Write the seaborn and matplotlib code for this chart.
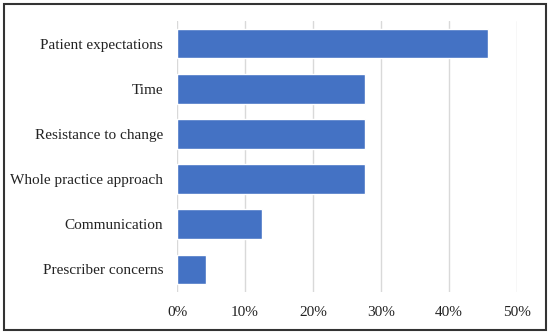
import matplotlib
matplotlib.use("Agg")
import matplotlib.pyplot as plt
import seaborn as sns
import pandas as pd
from matplotlib.ticker import PercentFormatter
from matplotlib.patches import Rectangle

categories = ["Patient expectations", "Time", "Resistance to change",
              "Whole practice approach", "Communication", "Prescriber concerns"]
values = [45.8, 27.7, 27.7, 27.7, 12.45, 4.2]
xticks = [0, 10, 20, 30, 40, 50]

df = pd.DataFrame({"barrier": categories, "pct": values})

sns.set_theme(style="white")
plt.rcParams["font.family"] = ["Liberation Serif", "DejaVu Serif"]

fig = plt.figure(figsize=(5.5, 3.35), dpi=100)
ax = fig.add_axes([177/550, 1-292/335, (517-177)/550, (292-21)/335])

sns.barplot(data=df, y="barrier", x="pct", orient="h", color="#4472C4",
            saturation=1, width=0.66, ax=ax, zorder=3)

ax.set_xlim(0, 50)
ax.set_xticks(xticks)
ax.xaxis.set_major_formatter(PercentFormatter(decimals=0))
ax.grid(axis="x", color="#d9d9d9", linewidth=1.0, zorder=0)
ax.set_axisbelow(True)
for s in ax.spines.values():
    s.set_visible(False)
ax.set_xlabel("")
ax.set_ylabel("")
ax.tick_params(axis="both", length=0, labelsize=11, colors="#222222")
ax.tick_params(axis="y", pad=10)
ax.tick_params(axis="x", pad=10)

fig.patches.append(Rectangle((3.5/550, 5/335), 542/550, 326/335, transform=fig.transFigure,
                             fill=False, edgecolor="#333333", linewidth=1.5))

fig.savefig("out.png", dpi=100)
